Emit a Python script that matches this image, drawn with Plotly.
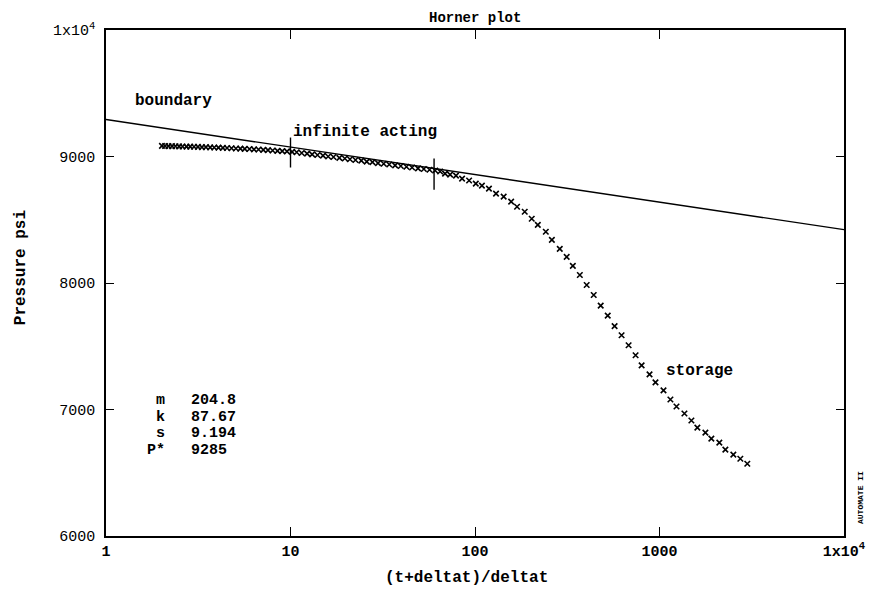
import plotly.graph_objects as go

# ---- data ----
ratio = [2.01, 2.09, 2.18, 2.28, 2.38, 2.49, 2.60, 2.73, 2.86, 3.00, 3.15, 3.31, 3.48, 3.67, 3.86,
         4.07, 4.30, 4.53, 4.79, 5.06, 5.35, 5.65, 5.99, 6.34, 6.71, 7.12, 7.55, 8.00, 8.50, 9.02,
         9.57, 10.2, 10.8, 11.5, 12.3, 13.1, 14.0, 15.0, 16.0, 17.1, 18.4, 19.7, 21.0, 22.5, 24.2,
         25.9, 27.8, 29.8, 32.0, 34.3, 36.9, 39.6, 42.5, 45.6, 49.1, 52.8, 56.7, 60.8, 64.7, 68.8,
         73.3, 78.9, 85.1, 92.9, 101, 109, 119, 130, 143, 157, 169, 186, 203, 219, 242, 261, 288,
         314, 339, 370, 403, 440, 480, 524, 571, 623, 680, 742, 800, 883, 951, 1051, 1146, 1236,
         1365, 1489, 1604, 1773, 1910, 2110, 2275, 2513, 2742, 2991]
pressure = [9084, 9083, 9082, 9082, 9081, 9080, 9079, 9078, 9078, 9077, 9076, 9074, 9074, 9072, 9071,
            9070, 9068, 9067, 9065, 9063, 9062, 9060, 9059, 9056, 9055, 9052, 9050, 9047, 9045, 9043,
            9040, 9037, 9034, 9028, 9023, 9017, 9012, 9007, 9000, 8996, 8989, 8984, 8978, 8972, 8967,
            8960, 8955, 8948, 8943, 8937, 8930, 8925, 8919, 8913, 8906, 8901, 8895, 8889, 8881, 8865,
            8857, 8849, 8825, 8810, 8786, 8770, 8746, 8706, 8683, 8643, 8603, 8563, 8508, 8460, 8405,
            8341, 8270, 8206, 8135, 8063, 7984, 7905, 7821, 7742, 7659, 7587, 7508, 7429, 7349, 7278,
            7214, 7151, 7079, 7024, 6968, 6913, 6857, 6817, 6770, 6738, 6683, 6643, 6611, 6571]

fit_x = [1, 10000]
fit_p = [9292, 8422]

marker1_x = [10, 10]
marker1_p = [9150, 8913]
marker2_x = [60, 60]
marker2_p = [8984, 8738]

x_tickvals = [1, 10, 100, 1000, 10000]
x_ticktext = ["1", "10", "100", "1000", "1x10<sup>4</sup>"]
y_tickvals = [6000, 7000, 8000, 9000, 10000]
y_ticktext = ["6000", "7000", "8000", "9000", "1x10<sup>4</sup>"]

stat_names = ["m", "k", "s", "P*"]
stat_values = ["204.8", "87.67", "9.194", "9285"]

FONT = "Liberation Mono"

fig = go.Figure()
fig.add_trace(go.Scatter(x=fit_x, y=fit_p, mode="lines",
                         line=dict(color="black", width=1.4), showlegend=False))
fig.add_trace(go.Scatter(x=ratio, y=pressure, mode="markers",
                         marker=dict(symbol="x-thin", size=5.5, line=dict(color="black", width=1.6)),
                         showlegend=False))
for mx, mp in [(marker1_x, marker1_p), (marker2_x, marker2_p)]:
    fig.add_trace(go.Scatter(x=mx, y=mp, mode="lines",
                             line=dict(color="black", width=1.4), showlegend=False))

bold = dict(family=FONT, size=16, color="black", weight="bold")

fig.add_annotation(x=0.146, y=9437, xref="x", yref="y", text="boundary", showarrow=False,
                   xanchor="left", yanchor="middle", font=bold)
fig.add_annotation(x=1.004, y=9191, xref="x", yref="y", text="infinite acting", showarrow=False,
                   xanchor="left", yanchor="middle", font=bold)
fig.add_annotation(x=3.022, y=7302, xref="x", yref="y", text="storage", showarrow=False,
                   xanchor="left", yanchor="middle", font=bold)

row_y = [0.268, 0.234, 0.202, 0.169]
for name, val, yy in zip(stat_names, stat_values, row_y):
    fig.add_annotation(x=0.0824, y=yy, xref="paper", yref="paper", text=name, showarrow=False,
                       xanchor="right", yanchor="middle",
                       font=dict(family=FONT, size=15, color="black", weight="bold"))
    fig.add_annotation(x=0.112, y=yy, xref="paper", yref="paper", text=val, showarrow=False,
                       xanchor="left", yanchor="middle",
                       font=dict(family=FONT, size=15, color="black", weight="bold"))

fig.add_annotation(x=0.5, y=1.024, xref="paper", yref="paper", text="Horner plot", showarrow=False,
                   xanchor="center", yanchor="middle",
                   font=dict(family=FONT, size=14, color="black", weight="bold"))
fig.add_annotation(x=0.488, y=-0.083, xref="paper", yref="paper", text="(t+deltat)/deltat",
                   showarrow=False, xanchor="center", yanchor="middle", font=bold)
fig.add_annotation(x=-0.116, y=0.53, xref="paper", yref="paper", text="Pressure psi",
                   showarrow=False, xanchor="center", yanchor="middle", textangle=-90, font=bold)
fig.add_annotation(x=1.0216, y=0.077, xref="paper", yref="paper", text="AUTOMATE II",
                   showarrow=False, xanchor="center", yanchor="middle", textangle=-90,
                   font=dict(family=FONT, size=8, color="black", weight="bold"))

fig.update_xaxes(type="log", range=[0, 4], tickvals=x_tickvals, ticktext=x_ticktext,
                 showgrid=False, zeroline=False, showline=True, linecolor="black", linewidth=1.5,
                 mirror="ticks", ticks="inside", ticklen=9, tickwidth=1.2, tickcolor="black",
                 tickfont=dict(family=FONT, size=15, color="black", weight="bold"))
fig.update_yaxes(range=[6000, 10000], tickvals=y_tickvals, ticktext=y_ticktext,
                 showgrid=False, zeroline=False, showline=True, linecolor="black", linewidth=1.5,
                 mirror="ticks", ticks="inside", ticklen=8, tickwidth=1.2, tickcolor="black",
                 ticklabelstandoff=6,
                 tickfont=dict(family=FONT, size=15, color="black"))

# page has an 8px body offset; size/margins compensate so the plot area matches the reference
fig.update_layout(width=869, height=590, margin=dict(l=98, r=31, t=20, b=62),
                  plot_bgcolor="white", paper_bgcolor="white", showlegend=False)

fig.write_html("out.html")
